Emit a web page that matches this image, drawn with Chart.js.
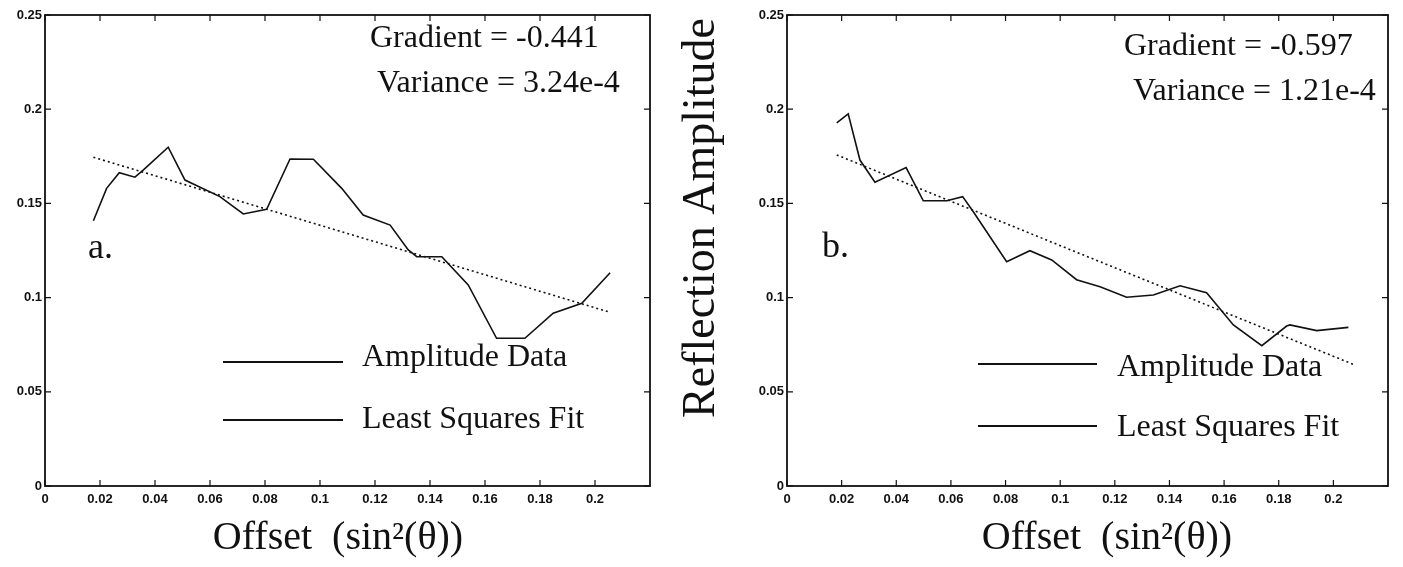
<!DOCTYPE html>
<html>
<head>
<meta charset="utf-8">
<script src="https://cdn.jsdelivr.net/npm/chart.js@4.4.1/dist/chart.umd.min.js"></script>
<style>
  html, body { margin: 0; padding: 0; background: #fff; }
  #wrap { position: relative; width: 1403px; height: 567px; overflow: hidden; }
  canvas { position: absolute; top: 0; }
  #chartA { left: 0; }
  #chartB { left: 680px; }
</style>
</head>
<body>
<div id="wrap">
  <canvas id="chartA" width="680" height="567"></canvas>
  <canvas id="chartB" width="723" height="567"></canvas>
</div>
<script>
// ---- data ----
// panel a.
const ampXA = [0.0176, 0.0224, 0.0270, 0.0327, 0.0357, 0.0448, 0.0509, 0.0636, 0.0721, 0.0806, 0.0891, 0.0976,
               0.1079, 0.1157, 0.1255, 0.1321, 0.1352, 0.1443, 0.1539, 0.1642, 0.1745, 0.1848, 0.1952, 0.2055];
const ampYA = [0.1408, 0.1580, 0.1663, 0.1639, 0.1677, 0.1798, 0.1624, 0.1536, 0.1444, 0.1469, 0.1736, 0.1734,
               0.1580, 0.1438, 0.1385, 0.1253, 0.1217, 0.1217, 0.1067, 0.0784, 0.0784, 0.0917, 0.0970, 0.1132];
const fitXA = [0.0176, 0.2048];
const fitYA = [0.1745, 0.0925];
// panel b.
const ampXB = [0.0182, 0.0224, 0.0267, 0.0322, 0.0436, 0.0499, 0.0585, 0.0643, 0.0682, 0.0804, 0.0889, 0.0969,
               0.1060, 0.1146, 0.1243, 0.1341, 0.1439, 0.1536, 0.1634, 0.1738, 0.1829, 0.1841, 0.1939, 0.2055];
const ampYB = [0.1928, 0.1975, 0.1730, 0.1612, 0.1690, 0.1514, 0.1514, 0.1536, 0.1456, 0.1191, 0.1249, 0.1200,
               0.1095, 0.1058, 0.1002, 0.1014, 0.1063, 0.1026, 0.0855, 0.0745, 0.0849, 0.0855, 0.0825, 0.0842];
const fitXB = [0.0182, 0.2079];
const fitYB = [0.1757, 0.0642];

// axes
const xMin = 0, xMax = 0.22, xStep = 0.02;
const yMin = 0, yMax = 0.25, yStep = 0.05;

// texts
const xTitle = 'Offset  (sin²(θ))';
const yTitle = 'Reflection Amplitude';
const legendLabels = ['Amplitude Data', 'Least Squares Fit'];
const statsA = ['Gradient = -0.441', 'Variance = 3.24e-4'];
const statsB = ['Gradient = -0.597', 'Variance = 1.21e-4'];

const SERIF = '"Liberation Serif", "Times New Roman", serif';
const SANS = '"Liberation Sans", Arial, sans-serif';
const INK = '#111';
const fmt = v => String(Number(v.toFixed(2)));
const pts = (xs, ys) => xs.map((x, i) => ({ x, y: ys[i] }));

// frame + inward ticks on all four sides (matlab style)
const frameTicks = {
  id: 'frameTicks',
  afterDatasetsDraw(chart) {
    const { ctx, chartArea: a, scales: { x, y } } = chart;
    ctx.save();
    ctx.strokeStyle = INK;
    ctx.lineWidth = 1.8;
    ctx.strokeRect(a.left, a.top, a.right - a.left, a.bottom - a.top);
    ctx.lineWidth = 1.2;
    ctx.beginPath();
    x.ticks.forEach(t => {
      if (t.value > 0.21) return;
      const px = x.getPixelForValue(t.value);
      ctx.moveTo(px, a.bottom); ctx.lineTo(px, a.bottom - 6);
      ctx.moveTo(px, a.top); ctx.lineTo(px, a.top + 6);
    });
    y.ticks.forEach(t => {
      const py = y.getPixelForValue(t.value);
      ctx.moveTo(a.left, py); ctx.lineTo(a.left + 6, py);
      ctx.moveTo(a.right, py); ctx.lineTo(a.right - 6, py);
    });
    ctx.stroke();
    ctx.restore();
  }
};

// annotation texts, legend, axis titles
const overlay = {
  id: 'overlay',
  afterDraw(chart, args, o) {
    const ctx = chart.ctx;
    ctx.save();
    ctx.fillStyle = INK;
    ctx.strokeStyle = INK;
    ctx.textBaseline = 'alphabetic';
    ctx.textAlign = 'left';
    ctx.font = '32px ' + SERIF;
    ctx.fillText(o.stats[0], o.statsX[0], o.statsY[0]);
    ctx.fillText(o.stats[1], o.statsX[1], o.statsY[1]);
    ctx.font = '36px ' + SERIF;
    ctx.fillText(o.tag, o.tagX, o.tagY);
    // legend
    ctx.font = '32px ' + SERIF;
    ctx.lineWidth = 1.8;
    legendLabels.forEach((lab, i) => {
      ctx.beginPath();
      ctx.moveTo(o.legX0, o.legLineY[i]);
      ctx.lineTo(o.legX1, o.legLineY[i]);
      ctx.stroke();
      ctx.fillText(lab, o.legTextX, o.legTextY[i]);
    });
    // x title
    ctx.textAlign = 'center';
    ctx.font = '40px ' + SERIF;
    ctx.fillText(xTitle, o.xTitleX, o.xTitleY);
    if (o.yTitle) {
      ctx.translate(o.yTitleX, o.yTitleY);
      ctx.rotate(-Math.PI / 2);
      ctx.textBaseline = 'middle';
      ctx.font = '46px ' + SERIF;
      ctx.fillText(yTitle, 0, 0);
    }
    ctx.restore();
  }
};

function makeChart(id, ampX, ampY, fitX, fitY, yAxisWidth, padRight, ov) {
  return new Chart(document.getElementById(id), {
    type: 'scatter',
    data: {
      datasets: [
        { label: legendLabels[0], data: pts(ampX, ampY), showLine: true, borderColor: INK, borderWidth: 1.6,
          pointRadius: 0, fill: false, tension: 0 },
        { label: legendLabels[1], data: pts(fitX, fitY), showLine: true, borderColor: INK, borderWidth: 1.6,
          borderDash: [2, 3], pointRadius: 0, fill: false, tension: 0 },
      ],
    },
    options: {
      responsive: false, animation: false, events: [],
      layout: { padding: { top: 15, right: padRight, bottom: 0, left: 0 } },
      plugins: { legend: { display: false }, tooltip: { enabled: false }, overlay: ov },
      scales: {
        x: {
          type: 'linear', min: xMin, max: xMax,
          afterFit: s => { s.height = 81; },
          grid: { display: false, drawTicks: false }, border: { display: false },
          ticks: { stepSize: xStep, padding: 6, color: INK, maxRotation: 0, autoSkip: false,
                   font: { family: SANS, size: 13, weight: 'bold' },
                   callback: v => (v > 0.21 ? '' : fmt(v)) },
        },
        y: {
          type: 'linear', min: yMin, max: yMax,
          afterFit: s => { s.width = yAxisWidth; },
          grid: { display: false, drawTicks: false }, border: { display: false },
          ticks: { stepSize: yStep, padding: 3, color: INK,
                   font: { family: SANS, size: 13, weight: 'bold' },
                   callback: v => fmt(v) },
        },
      },
    },
    plugins: [frameTicks, overlay],
  });
}

makeChart('chartA', ampXA, ampYA, fitXA, fitYA, 45, 30, {
  stats: statsA, statsX: [370, 377], statsY: [47, 92],
  tag: 'a.', tagX: 88, tagY: 258,
  legX0: 223, legX1: 343, legLineY: [362, 420], legTextX: 362, legTextY: [366, 428],
  xTitleX: 338, xTitleY: 549, yTitle: false,
});

makeChart('chartB', ampXB, ampYB, fitXB, fitYB, 107, 15, {
  stats: statsB, statsX: [1124 - 680, 1133 - 680], statsY: [55, 100],
  tag: 'b.', tagX: 142, tagY: 257,
  legX0: 298, legX1: 417, legLineY: [364, 426], legTextX: 437, legTextY: [376, 436],
  xTitleX: 427, xTitleY: 549, yTitle: true, yTitleX: 22, yTitleY: 218,
});
</script>
</body>
</html>
